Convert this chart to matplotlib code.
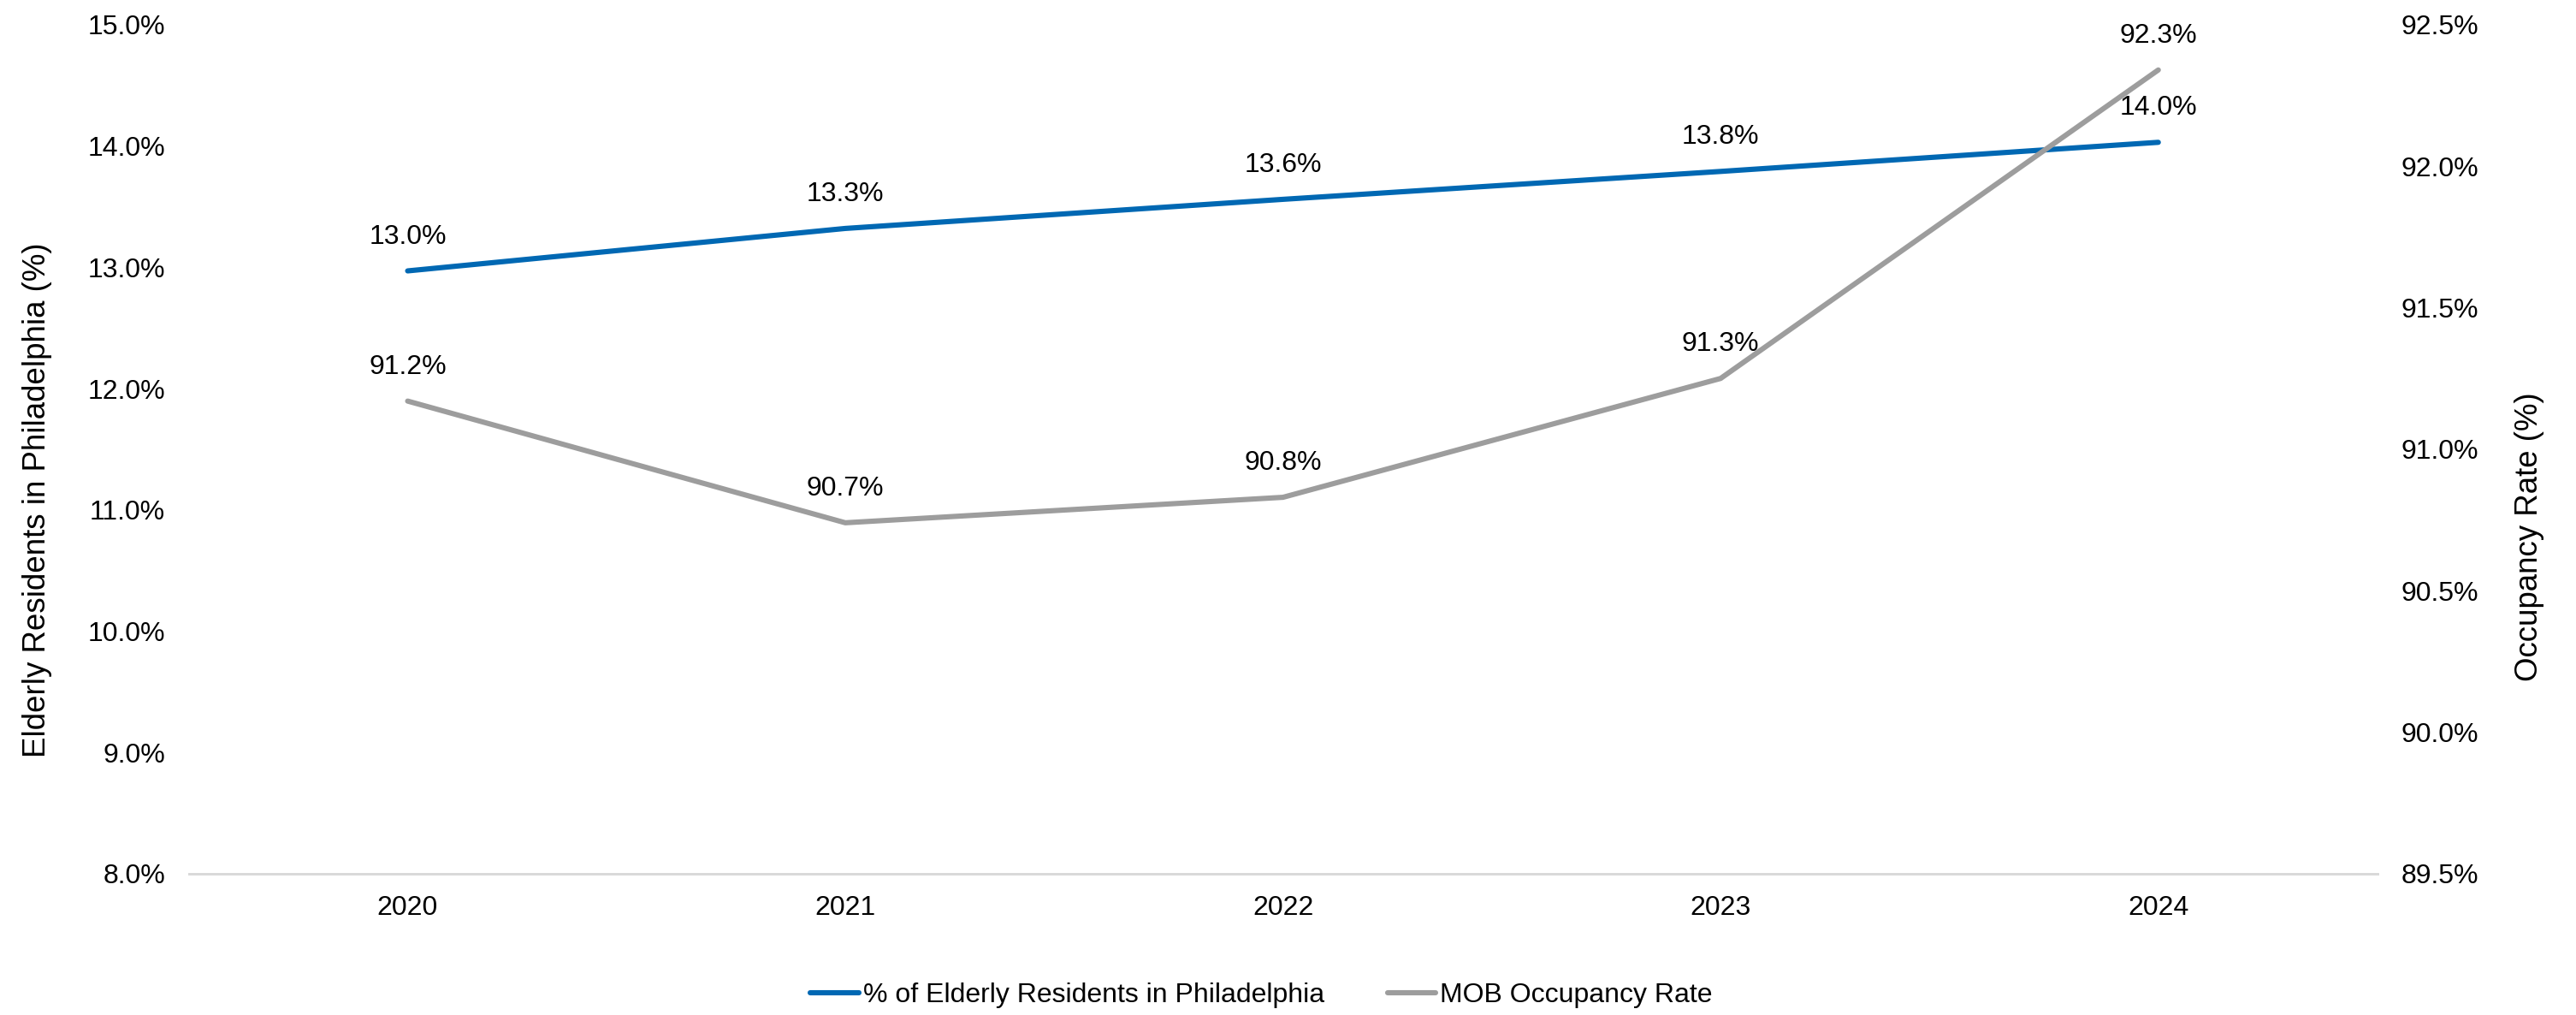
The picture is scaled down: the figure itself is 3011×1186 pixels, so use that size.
import matplotlib.pyplot as plt
from matplotlib.ticker import FuncFormatter

years = ['2020', '2021', '2022', '2023', '2024']
elderly_pct = [12.97, 13.32, 13.56, 13.79, 14.03]
elderly_labels = ['13.0%', '13.3%', '13.6%', '13.8%', '14.0%']
occupancy_pct = [91.17, 90.74, 90.83, 91.25, 92.34]
occupancy_labels = ['91.2%', '90.7%', '90.8%', '91.3%', '92.3%']

plt.rcParams['font.family'] = ['Liberation Sans', 'DejaVu Sans']
plt.rcParams['font.size'] = 11.5

blue = '#0068B3'
gray = '#9D9D9D'

fig = plt.figure(figsize=(15.055, 5.93), dpi=200)
ax = fig.add_axes([0.0733, 0.1392, 0.8495, 0.8365])
ax2 = ax.twinx()

x = list(range(len(years)))
l1, = ax.plot(x, elderly_pct, color=blue, lw=2.2, solid_capstyle='round',
              label='% of Elderly Residents in Philadelphia')
l2, = ax2.plot(x, occupancy_pct, color=gray, lw=2.2, solid_capstyle='round',
               label='MOB Occupancy Rate')

# data labels above each point
for xi, v, t in zip(x, elderly_pct, elderly_labels):
    ax.annotate(t, (xi, v), xytext=(0, 9), textcoords='offset points',
                ha='center', va='bottom', fontsize=11.5)
for xi, v, t in zip(x, occupancy_pct, occupancy_labels):
    ax2.annotate(t, (xi, v), xytext=(0, 9), textcoords='offset points',
                 ha='center', va='bottom', fontsize=11.5)

ax.set_xlim(-0.5, 4.5)
ax.set_xticks(x)
ax.set_xticklabels(years)
ax.set_ylim(8, 15)
ax.set_yticks(range(8, 16))
ax.yaxis.set_major_formatter(FuncFormatter(lambda v, p: f'{v:.1f}%'))
ax2.set_ylim(89.5, 92.5)
ax2.set_yticks([89.5, 90.0, 90.5, 91.0, 91.5, 92.0, 92.5])
ax2.yaxis.set_major_formatter(FuncFormatter(lambda v, p: f'{v:.1f}%'))

for a in (ax, ax2):
    for s in ('top', 'left', 'right'):
        a.spines[s].set_visible(False)
    a.spines['bottom'].set_color('#D9D9D9')
    a.spines['bottom'].set_linewidth(1.0)
    a.tick_params(length=0)
ax.tick_params(axis='y', pad=10)
ax.tick_params(axis='x', pad=9)
ax2.tick_params(axis='y', pad=10)

# axis titles
fig.text(0.0146, 0.507, 'Elderly Residents in Philadelphia (%)', rotation=90,
         ha='center', va='center', fontsize=13.2)
fig.text(0.982, 0.471, 'Occupancy Rate (%)', rotation=90,
         ha='center', va='center', fontsize=13.2)

fig.legend(handles=[l1, l2], loc='center', bbox_to_anchor=(0.4897, 0.0194),
           ncol=2, frameon=False, handlelength=1.78, handletextpad=0.15,
           columnspacing=2.3)

fig.savefig('out.png', dpi=200)
